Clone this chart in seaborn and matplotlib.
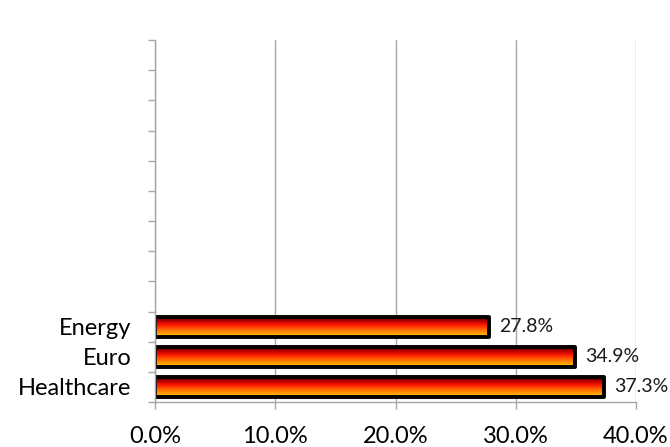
import numpy as np
import pandas as pd
import matplotlib
matplotlib.use("Agg")
import matplotlib.pyplot as plt
from matplotlib.colors import LinearSegmentedColormap
import seaborn as sns

categories = ["Energy", "Euro", "Healthcare"]
shares = [27.8, 34.9, 37.3]
x_ticks = [0, 10, 20, 30, 40]
n_slots = 12

sns.set_style("white")
plt.rcParams["font.family"] = ["Lato", "DejaVu Sans"]

df = pd.DataFrame({"category": categories, "share": shares})

fig = plt.figure(figsize=(6.7, 4.47), dpi=100)
ax = fig.add_axes([155 / 670, 1 - 402 / 447, (636 - 155) / 670, (402 - 40) / 447])

sns.barplot(data=df, x="share", y="category", order=categories, ax=ax,
            width=0.66, color="#d00000", edgecolor="black", linewidth=2.8)

# flame gradient inside each bar: dark red at top, yellow at bottom
grad = LinearSegmentedColormap.from_list(
    "flame", ["#4a0000", "#b80000", "#ff1a00", "#ff6000", "#ff9a00", "#ffc400"])
gvals = np.linspace(0, 1, 64).reshape(-1, 1)
for bar in ax.patches:
    bar.set_joinstyle("round")
    x0, y0 = bar.get_x(), bar.get_y()
    w, h = bar.get_width(), bar.get_height()
    bar.set_facecolor("none")
    im = ax.imshow(gvals, cmap=grad, aspect="auto", interpolation="bilinear",
                   extent=[x0, x0 + w, y0, y0 + h], origin="lower",
                   zorder=bar.get_zorder() - 0.1)
    im.set_clip_path(bar)

for i, v in enumerate(shares):
    ax.text(v + 0.85, i, f"{v:.1f}%", va="center", ha="left", fontsize=14, color="#1a1a1a")

ax.set_xlim(0, 40)
ax.set_ylim(2.5, 2.5 - n_slots)
ax.set_xticks(x_ticks)
ax.set_xticklabels([f"{t:.1f}%" for t in x_ticks])
ax.set_yticks(range(len(categories)))
ax.set_yticklabels(categories)
ax.set_yticks(np.arange(2.5 - n_slots, 3.0, 1.0), minor=True)
ax.tick_params(axis="y", which="major", left=True, length=0, pad=17, labelsize=17,
               labelcolor="black")
ax.tick_params(axis="y", which="minor", left=True, length=5, width=1, color="#a6a6a6",
               direction="out")
ax.tick_params(axis="x", bottom=True, length=5, width=1, color="#a6a6a6", direction="out",
               pad=12, labelsize=17, labelcolor="black")
ax.set_xlabel("")
ax.set_ylabel("")

ax.xaxis.grid(True, color="#a6a6a6", linewidth=1)
ax.set_axisbelow(True)
for side in ["top", "right"]:
    ax.spines[side].set_visible(False)
for side in ["left", "bottom"]:
    ax.spines[side].set_color("#a6a6a6")
    ax.spines[side].set_linewidth(1)

fig.savefig("out.png", dpi=100)
